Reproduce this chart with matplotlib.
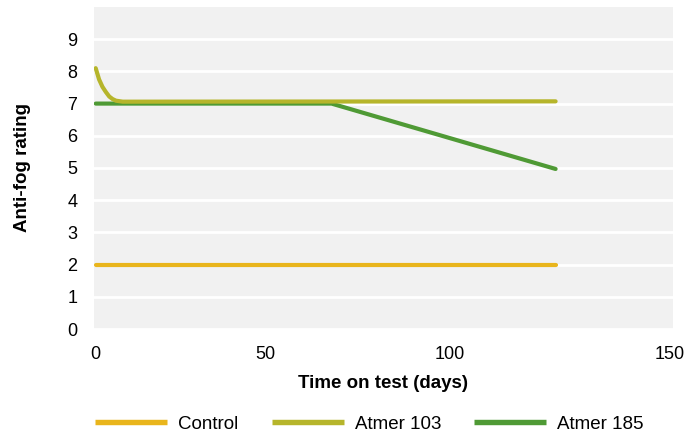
import matplotlib.pyplot as plt
import numpy as np

plt.rcParams["font.family"] = ["Liberation Sans", "DejaVu Sans"]

# values
control_days = [0, 124]
control_rating = [2.0, 2.0]

atmer103_days = [0, 1, 2, 3, 4, 5, 6, 8, 124]
atmer103_rating = [8.1, 7.75, 7.52, 7.36, 7.22, 7.14, 7.09, 7.06, 7.07]

atmer185_days = [0, 68, 124]
atmer185_rating = [7.0, 7.0, 4.97]

x_ticks = [0, 50, 100, 150]
y_ticks = list(range(10))

# the reference spaces its day ticks unevenly; follow that with a piecewise scale
tick_px = [-10 * 3.39 + 1.7, 1.7, 171.0, 356.0, 576.0, 576.0 + 10 * 4.4]
tick_days = [-10, 0, 50, 100, 150, 160]


def forward(d):
    return np.interp(d, tick_days, tick_px)


def inverse(p):
    return np.interp(p, tick_px, tick_days)


fig = plt.figure(figsize=(6.97, 4.34), dpi=100)
ax = fig.add_axes([94 / 697, 105 / 434, 579 / 697, 322 / 434])
ax.set_facecolor("#f1f1f1")
ax.set_xscale("function", functions=(forward, inverse))

lw = 3.0
ax.plot(control_days, control_rating, color="#e9b51c", lw=lw,
        solid_capstyle="round", label="Control", zorder=3)
ax.plot(atmer185_days, atmer185_rating, color="#4f9a35", lw=lw,
        solid_capstyle="round", solid_joinstyle="round", label="Atmer 185", zorder=3)
ax.plot(atmer103_days, atmer103_rating, color="#b6b52b", lw=lw,
        solid_capstyle="round", solid_joinstyle="round", label="Atmer 103", zorder=4)

ax.set_xlim(float(inverse(0.0)), float(inverse(579.0)))
ax.set_ylim(0, 10)
ax.set_xticks(x_ticks)
ax.set_yticks(y_ticks)
ax.yaxis.grid(True, color="white", lw=2)
ax.set_axisbelow(True)
for s in ax.spines.values():
    s.set_visible(False)
ax.tick_params(length=0, labelsize=13, colors="black")
ax.tick_params(axis="y", pad=12)
ax.tick_params(axis="x", pad=12)

ax.set_xlabel("Time on test (days)", fontsize=13.5, fontweight="bold", labelpad=9)
ax.set_ylabel("Anti-fog rating", fontsize=13.5, fontweight="bold", labelpad=26)

handles, labels = ax.get_legend_handles_labels()
order = [0, 2, 1]
leg = fig.legend([handles[i] for i in order], [labels[i] for i in order],
                 loc="center", bbox_to_anchor=(0.530, 0.022), ncol=3,
                 frameon=False, fontsize=13.5, handlelength=3.84,
                 handletextpad=0.59, columnspacing=1.76)
for line in leg.get_lines():
    line.set_linewidth(3.9)
    line.set_solid_capstyle("butt")

fig.savefig("out.png", dpi=100)
